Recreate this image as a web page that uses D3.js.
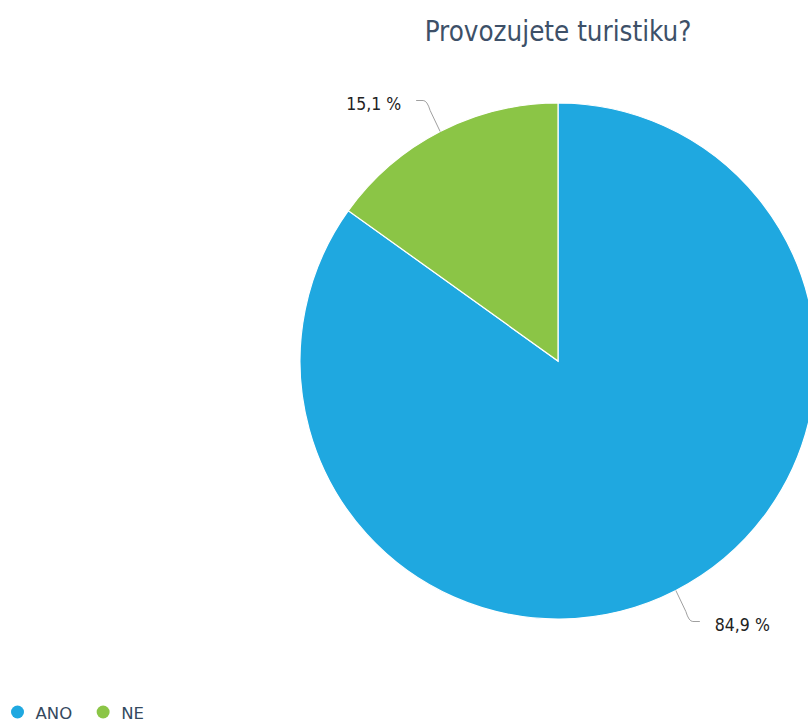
<!DOCTYPE html>
<html>
<head>
<meta charset="utf-8">
<script src="https://cdn.jsdelivr.net/npm/d3@7"></script>
<style>
  html, body { margin: 0; padding: 0; background: #fff; }
  svg { display: block; }
</style>
</head>
<body>
<svg id="chart" width="808" height="725"></svg>
<script>
// Survey answers and their shares (percent)
const categories = ["ANO", "NE"];
const shares = [84.9, 15.1];
const colors = ["#1fa8e0", "#8bc546"];
const title = "Provozujete turistiku?";

const svg = d3.select("#chart");
const cx = 558, cy = 361, R = 258;

// Title
svg.append("text")
  .attr("x", cx).attr("y", 41)
  .attr("text-anchor", "middle")
  .attr("font-family", "'DejaVu Sans Condensed', 'DejaVu Sans', sans-serif")
  .attr("font-size", 27.5)
  .attr("fill", "#3d5068")
  .text(title);

const data = categories.map((c, i) => ({ name: c, value: shares[i], color: colors[i] }));

const pie = d3.pie().value(d => d.value).sort(null);
const arc = d3.arc().innerRadius(0).outerRadius(R);
const arcs = pie(data);

const g = svg.append("g").attr("transform", `translate(${cx},${cy})`);

g.selectAll("path.slice")
  .data(arcs)
  .join("path")
  .attr("class", "slice")
  .attr("d", arc)
  .attr("fill", d => d.data.color)
  .attr("stroke", "#ffffff")
  .attr("stroke-width", 1.2);

// Data labels with curved connectors
const fmt = v => d3.format(".1f")(v).replace(".", ",") + " %";
arcs.forEach(a => {
  const mid = (a.startAngle + a.endAngle) / 2;
  const sx = Math.sin(mid), sy = -Math.cos(mid);
  const dir = sx >= 0 ? 1 : -1;
  const vdir = sy >= 0 ? 1 : -1;
  const p0 = [R * sx, R * sy];
  const ly = vdir * (R + 2.5);
  const cornerX = p0[0] + dir * 17;
  const endX = p0[0] + dir * 24;
  const path = d3.path();
  path.moveTo(p0[0], p0[1]);
  path.lineTo(p0[0] + dir * 10, ly - vdir * 10);
  path.quadraticCurveTo(p0[0] + dir * 13, ly, cornerX, ly);
  path.lineTo(endX, ly);
  g.append("path")
    .attr("d", path.toString())
    .attr("fill", "none")
    .attr("stroke", "#a0a0a0")
    .attr("stroke-width", 1);
  g.append("text")
    .attr("x", endX + dir * 15)
    .attr("y", ly + 9)
    .attr("text-anchor", dir > 0 ? "start" : "end")
    .attr("font-family", "'DejaVu Sans Condensed', 'DejaVu Sans', sans-serif")
    .attr("font-size", 17.5)
    .attr("fill", "#222")
    .text(fmt(a.data.value));
});

// Legend
const legend = svg.append("g").attr("transform", "translate(0,712)");
let lx = 17.5;
data.forEach(d => {
  legend.append("circle").attr("cx", lx).attr("cy", 0).attr("r", 6.5).attr("fill", d.color);
  const t = legend.append("text")
    .attr("x", lx + 18).attr("y", 6.5)
    .attr("font-family", "'DejaVu Sans', sans-serif")
    .attr("font-size", 16.5)
    .attr("fill", "#34495e")
    .text(d.name);
  lx += 18 + t.node().getComputedTextLength() + 31;
});
</script>
</body>
</html>
